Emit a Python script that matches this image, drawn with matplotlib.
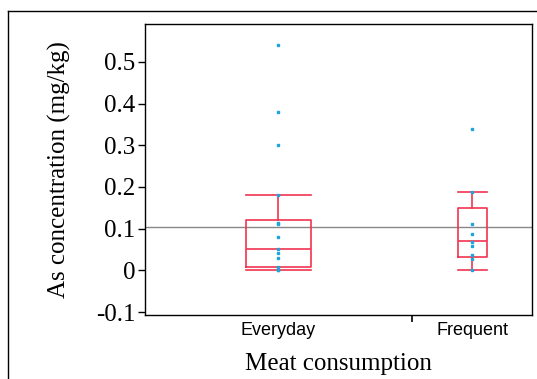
import matplotlib.pyplot as plt
from matplotlib.lines import Line2D

groups = ["Everyday", "Frequent"]
group_n = [20, 9]  # column widths follow group size

# box summary: whisker low, q1, median, q3, whisker high
whislo = [0.0, 0.0]
q1 = [0.009, 0.031]
med = [0.05, 0.07]
q3 = [0.121, 0.15]
whishi = [0.18, 0.188]

everyday_pts = [0.54, 0.38, 0.30, 0.18, 0.114, 0.11, 0.08, 0.051, 0.042, 0.029, 0.009, 0.0, 0.0]
frequent_pts = [0.34, 0.188, 0.11, 0.088, 0.069, 0.058, 0.036, 0.028, 0.0]
grand_mean = 0.105

fig = plt.figure(figsize=(5.37, 3.79), dpi=100)
ax = fig.add_axes([0.270, 0.169, 0.721, 0.768])

# outer frame (partly cut off in the original)
fig.add_artist(Line2D([8/537, 1.0], [1 - 11/379, 1 - 11/379], color="black", lw=1))
fig.add_artist(Line2D([8/537, 8/537], [0, 1 - 11/379], color="black", lw=1))

edges = [0]
for n in group_n:
    edges.append(edges[-1] + n)
centers = [(edges[i] + edges[i + 1]) / 2 for i in range(len(groups))]

stats = []
for i in range(len(groups)):
    stats.append({"whislo": whislo[i], "q1": q1[i], "med": med[i],
                  "q3": q3[i], "whishi": whishi[i], "fliers": []})

red = "#f0344f"
widths = [0.24 * n for n in group_n]
ax.bxp(stats, positions=centers, widths=widths, showfliers=False,
       capwidths=widths,
       boxprops=dict(color=red, lw=1.2),
       whiskerprops=dict(color=red, lw=1.2),
       capprops=dict(color=red, lw=1.2),
       medianprops=dict(color=red, lw=1.2))

ax.axhline(grand_mean, color="#888888", lw=1, zorder=1)

blue = "#1ea5dc"
for c, pts in zip(centers, [everyday_pts, frequent_pts]):
    ax.plot([c] * len(pts), pts, ls="none", marker="s", ms=2.0, color=blue,
            mec=blue, zorder=5)

ax.set_xlim(edges[0], edges[-1])
ax.set_ylim(-0.107, 0.591)
ax.set_yticks([-0.1, 0, 0.1, 0.2, 0.3, 0.4, 0.5])
ax.set_yticklabels(["-0.1", "0", "0.1", "0.2", "0.3", "0.4", "0.5"],
                   family="Liberation Serif", fontsize=18)
ax.tick_params(axis="y", length=5, width=1, pad=2)

ax.set_xticks(centers)
ax.set_xticklabels(groups, family="Liberation Sans", fontsize=13)
ax.tick_params(axis="x", which="major", length=0, pad=5)
ax.set_xticks(edges[1:-1], minor=True)
ax.tick_params(axis="x", which="minor", length=5, width=1.2)

ax.set_xlabel("Meat consumption", family="Liberation Serif", fontsize=18, labelpad=10)
ax.set_ylabel("As concentration (mg/kg)", family="Liberation Serif", fontsize=18, labelpad=18)

for s in ax.spines.values():
    s.set_linewidth(1)

fig.savefig("out.png", dpi=100)
